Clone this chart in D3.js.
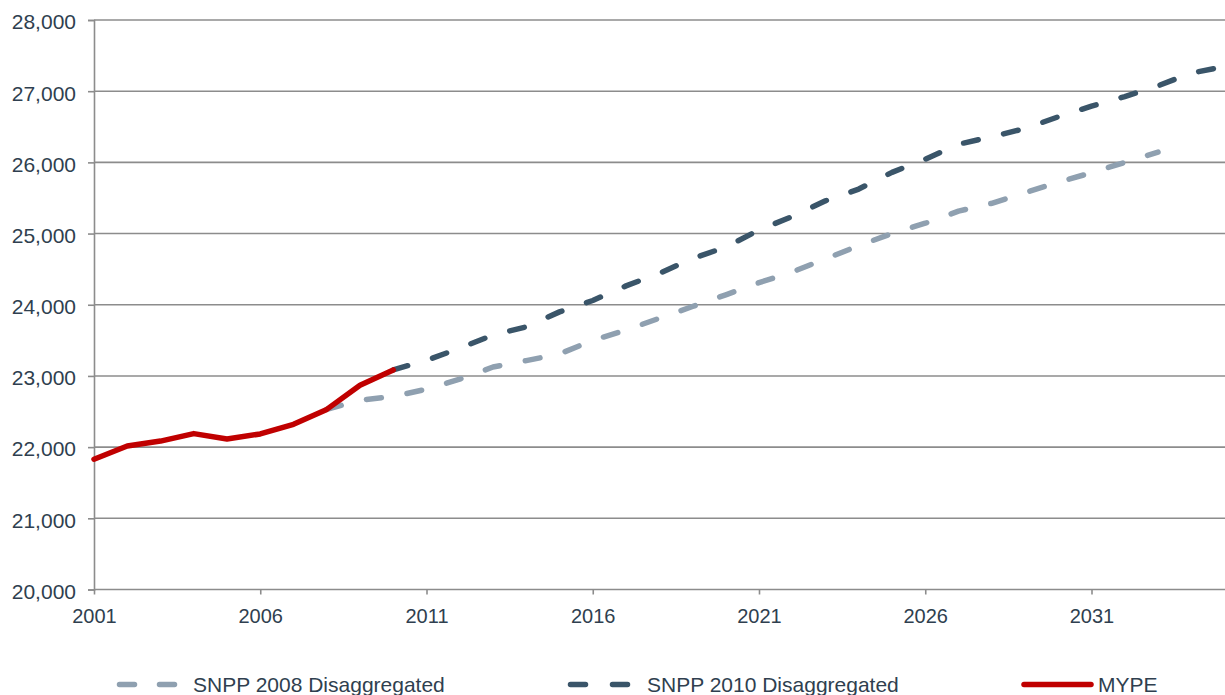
<!DOCTYPE html>
<html>
<head>
<meta charset="utf-8">
<script src="https://cdn.jsdelivr.net/npm/d3@7"></script>
<style>
  html, body { margin: 0; padding: 0; background: #fff; }
  svg { display: block; }
  text { font-family: "Liberation Sans", Arial, sans-serif; fill: #2f3f4f; }
</style>
</head>
<body>
<svg id="chart" width="1225" height="695"></svg>
<script>
// ---- Data ----
const mypeYears = [2001, 2002, 2003, 2004, 2005, 2006, 2007, 2008, 2009, 2010];
const mypeValues = [21830, 22015, 22085, 22190, 22115, 22185, 22320, 22530, 22870, 23085];

const snpp2008Years = [2008, 2009, 2010, 2011, 2012, 2013, 2014, 2015, 2016, 2017, 2018, 2019, 2020,
  2021, 2022, 2023, 2024, 2025, 2026, 2027, 2028, 2029, 2030, 2031, 2032, 2033];
const snpp2008Values = [22530, 22660, 22710, 22815, 22955, 23125, 23215, 23310, 23500, 23645, 23810, 23975, 24140,
  24310, 24460, 24645, 24830, 25000, 25145, 25315, 25425, 25575, 25720, 25855, 26000, 26145];

const snpp2010Years = [2010, 2011, 2012, 2013, 2014, 2015, 2016, 2017, 2018, 2019, 2020, 2021, 2022,
  2023, 2024, 2025, 2026, 2027, 2028, 2029, 2030, 2031, 2032, 2033, 2034, 2035];
const snpp2010Values = [23085, 23220, 23390, 23575, 23690, 23900, 24060, 24265, 24440, 24650, 24810, 25050, 25240,
  25460, 25625, 25860, 26045, 26255, 26360, 26475, 26640, 26790, 26925, 27075, 27255, 27345];

const yTicks = [20000, 21000, 22000, 23000, 24000, 25000, 26000, 27000, 28000];
const xTicks = [2001, 2006, 2011, 2016, 2021, 2026, 2031];

const seriesNames = ["SNPP 2008 Disaggregated", "SNPP 2010 Disaggregated", "MYPE"];
const seriesColors = ["#8fa0b0", "#3a5569", "#c00000"];

// ---- Layout ----
const svg = d3.select("#chart");
const plotLeft = 94, plotRight = 1224.5, plotTop = 20, plotBottom = 589.5;

const x = d3.scaleLinear().domain([2001, 2035]).range([plotLeft, plotRight]);
const y = d3.scaleLinear().domain([20000, 28000]).range([plotBottom, plotTop]);

const gridColor = "#8c8c8c";

// Gridlines
svg.append("g")
  .selectAll("line")
  .data(yTicks)
  .join("line")
  .attr("x1", plotLeft).attr("x2", 1225)
  .attr("y1", d => y(d)).attr("y2", d => y(d))
  .attr("stroke", gridColor).attr("stroke-width", 1.6);

// Y axis
const yAxis = d3.axisLeft(y).tickValues(yTicks).tickSize(6).tickPadding(12)
  .tickFormat(d3.format(","));
const gy = svg.append("g").attr("transform", `translate(${plotLeft},0)`).call(yAxis);
gy.select(".domain").attr("stroke", gridColor).attr("stroke-width", 1.6);
gy.selectAll(".tick line").attr("stroke", gridColor).attr("stroke-width", 1.6);
gy.selectAll(".tick text").attr("font-size", 21).attr("fill", "#2f3f4f")
  .attr("dy", "0.42em")
  .attr("font-family", "Liberation Sans, Arial, sans-serif");

// X axis
const xAxis = d3.axisBottom(x).tickValues(xTicks).tickSize(5).tickPadding(14)
  .tickFormat(d3.format("d"));
const gx = svg.append("g").attr("transform", `translate(0,${plotBottom})`).call(xAxis);
gx.select(".domain").remove();
gx.selectAll(".tick line").attr("stroke", gridColor).attr("stroke-width", 1.6);
gx.selectAll(".tick text").attr("font-size", 20).attr("fill", "#2f3f4f")
  .attr("font-family", "Liberation Sans, Arial, sans-serif");

// Lines
const line = d3.line().x(d => x(d[0])).y(d => y(d[1]));

const zip = (a, b) => a.map((v, i) => [v, b[i]]);

svg.append("path")
  .datum(zip(snpp2008Years, snpp2008Values))
  .attr("d", line).attr("fill", "none")
  .attr("stroke", seriesColors[0]).attr("stroke-width", 5.5)
  .attr("stroke-linecap", "round").attr("stroke-linejoin", "round")
  .attr("stroke-dasharray", "15,26");

svg.append("path")
  .datum(zip(snpp2010Years, snpp2010Values))
  .attr("d", line).attr("fill", "none")
  .attr("stroke", seriesColors[1]).attr("stroke-width", 5.5)
  .attr("stroke-linecap", "round").attr("stroke-linejoin", "round")
  .attr("stroke-dasharray", "15,26");

svg.append("path")
  .datum(zip(mypeYears, mypeValues))
  .attr("d", line).attr("fill", "none")
  .attr("stroke", seriesColors[2]).attr("stroke-width", 5.5)
  .attr("stroke-linecap", "round").attr("stroke-linejoin", "round");

// Legend
const legendY = 684.5;
const legendItems = [
  { x1: 119.5, x2: 176, tx: 193, dash: "15,25" },
  { x1: 570.5, x2: 629.5, tx: 647, dash: "15,27" },
  { x1: 1024, x2: 1091, tx: 1098, dash: null }
];
const lg = svg.append("g");
legendItems.forEach((it, i) => {
  const l = lg.append("line")
    .attr("x1", it.x1).attr("x2", it.x2)
    .attr("y1", legendY).attr("y2", legendY)
    .attr("stroke", seriesColors[i]).attr("stroke-width", 5.5)
    .attr("stroke-linecap", "round");
  if (it.dash) l.attr("stroke-dasharray", it.dash);
  lg.append("text")
    .attr("x", it.tx).attr("y", legendY + 7.5)
    .attr("font-size", 21)
    .text(seriesNames[i]);
});
</script>
</body>
</html>
